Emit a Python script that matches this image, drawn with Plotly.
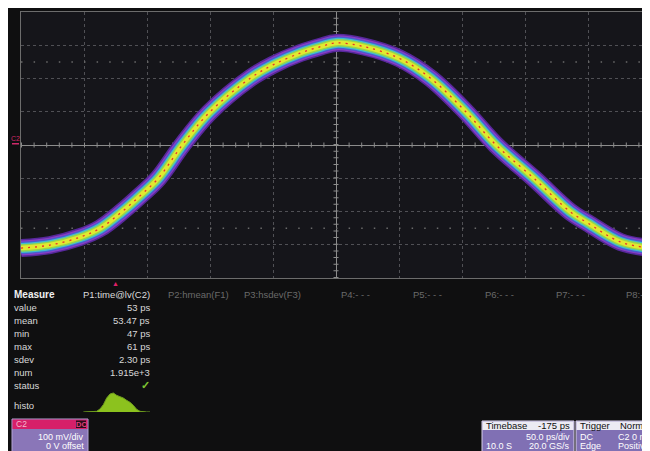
import plotly.graph_objects as go

# The page body has an 8px margin; the figure is positioned at (8, 8) in the window.
OX, OY = 8, 8
W, H = 650, 451

# ---------------- data ----------------
time_ps = [-250, -227, -203, -187, -170, -155, -141, -122, -101, -68, -50, -28, -12, 0,
           22, 50, 75, 103, 127, 157, 186, 200, 226, 250]
volt_mV = [-310, -301, -277, -250, -201, -151, -100, 0, 96, 201, 241, 277, 296, 307,
           296, 261, 201, 100, 0, -100, -201, -235, -292, -310]

histo_ps = [44, 45, 46, 47, 48, 49, 50, 51, 52, 53, 54, 55, 56, 57, 58, 59, 60, 61, 62, 63, 64]
histo_counts = [0, 0, 0, 1, 2, 9, 22, 42, 54, 57, 50, 46, 42, 35, 29, 20, 8, 2, 0, 0, 0]

param_headers = ["P1:time@lv(C2)", "P2:hmean(F1)", "P3:hsdev(F3)", "P4:- - -",
                 "P5:- - -", "P6:- - -", "P7:- - -", "P8:- - -"]
measure_labels = ["value", "mean", "min", "max", "sdev", "num", "status", "histo"]
measure_values = ["53 ps", "53.47 ps", "47 ps", "61 ps", "2.30 ps", "1.915e+3", "\u2713"]

# ---------------- layout helpers (window pixels -> paper) ----------------
def PX(x):
    return (x - OX) / W

def PY(y):
    return (H - (y - OY)) / H

FONT = "Liberation Sans, Arial, sans-serif"
PAPER = "#0f0f10"
GX0, GX1, GY0, GY1 = 21, 651, 12, 278   # graticule in window pixels

fig = go.Figure()

band = [("#55289a", 18), ("#8a3cc4", 15), ("#4a5cd0", 12.5), ("#40bccf", 10),
        ("#96d64a", 7.5), ("#e2e830", 4.5)]
for col, wd in band:
    fig.add_trace(go.Scatter(x=time_ps, y=volt_mV, mode="lines",
                             line=dict(color=col, width=wd, shape="spline", smoothing=1.0),
                             hoverinfo="skip", showlegend=False))
fig.add_trace(go.Scatter(x=time_ps, y=volt_mV, mode="lines",
                         line=dict(color="#e8302a", width=1.3, shape="spline",
                                   smoothing=1.0, dash="2px,5px"),
                         hoverinfo="skip", showlegend=False))

# histogram in the measure table
fig.add_trace(go.Scatter(x=histo_ps, y=histo_counts, mode="lines", xaxis="x2", yaxis="y2",
                         line=dict(color="#6f9e1e", width=1, shape="linear"),
                         fill="tozeroy", fillcolor="#8cc21e",
                         hoverinfo="skip", showlegend=False))

shapes = []
annotations = []

def txt(x, y, s, anchor="left", color="#dcdcdc", size=9.5, bold=False):
    annotations.append(dict(x=PX(x), y=PY(y), xref="paper", yref="paper",
                            text=("<b>%s</b>" % s) if bold else s,
                            showarrow=False, xanchor=anchor, yanchor="middle",
                            font=dict(family=FONT, size=size, color=color)))

def rect(x0, y0, x1, y1, fill, line=None, layer="above"):
    shapes.append(dict(type="rect", xref="paper", yref="paper", x0=PX(x0), x1=PX(x1),
                       y0=PY(y1), y1=PY(y0), fillcolor=fill,
                       line=dict(width=1 if line else 0, color=line or fill), layer=layer))

# hide the subplot background behind the small histogram
rect(80, 390, 154, 414, PAPER, layer="below")

# center cross ticks and marker rows (graticule decoration)
shapes.append(dict(type="line", xref="x", yref="y", x0=-250, x1=250, y0=0, y1=0,
                   line=dict(color="#8c8c8c", width=5, dash="1px,11.6px"), layer="between"))
shapes.append(dict(type="line", xref="x", yref="y", x0=0, x1=0, y0=-400, y1=400,
                   line=dict(color="#8c8c8c", width=5, dash="1px,5.65px"), layer="between"))
for yv in (-250, 250):
    shapes.append(dict(type="line", xref="x", yref="y", x0=-250, x1=250, y0=yv, y1=yv,
                       line=dict(color="#6a6a6a", width=1.5, dash="1.5px,11.1px"), layer="between"))

# channel marker at left
txt(15.5, 139, "C2", "center", "#d02a6a", 7)
rect(12, 143, 19, 144.5, "#d02a6a")

# trigger position marker
txt(115.5, 283, "\u25B2", "center", "#e0206a", 7)

# measure table
txt(11.5, 294, "Measure", "left", "#f0f0f0", 10, bold=True)
hdr_x = [152, 166, 242, 339, 411, 483, 554, 624]
for i, h in enumerate(param_headers):
    if i == 0:
        txt(hdr_x[i], 294, h, "right", "#dcdcdc")
    else:
        txt(hdr_x[i], 294, h, "left", "#6a6a6a")
row_y = [307, 320, 333, 346, 359, 372, 385, 405]
for lab, yv in zip(measure_labels, row_y):
    txt(11.5, yv, lab, "left", "#d8d8d8")
for val, yv in zip(measure_values, row_y):
    if val == "\u2713":
        txt(152, yv, val, "right", "#7cc232", 11, bold=True)
    else:
        txt(152, yv, val, "right", "#d8d8d8")

# C2 channel panel
rect(12, 419, 88, 470, "#8a76b8", "#b4a4d4")
rect(12.5, 419.5, 87.5, 429, "#d61f69")
txt(14, 424, "C2", "left", "#f4b8cc", 8.5)
rect(76, 420.5, 86, 428, "#2a0c18")
txt(81, 424.3, "DC", "center", "#e0407e", 7.5, bold=True)
txt(86, 436.5, "100 mV/div", "right", "#ffffff", 9)
txt(86, 445.5, "0 V offset", "right", "#ffffff", 9)

# Timebase panel
rect(482, 421, 574, 470, "#8070b4", "#d8d0ea")
rect(482.5, 421.5, 573.5, 430, "#ecebf3")
txt(484, 425.5, "Timebase", "left", "#101010")
txt(572, 425.5, "-175 ps", "right", "#101010")
txt(572, 436.5, "50.0 ps/div", "right", "#ffffff", 9)
txt(484, 445.5, "10.0 S", "left", "#ffffff", 9)
txt(572, 445.5, "20.0 GS/s", "right", "#ffffff", 9)

# Trigger panel
rect(576, 421, 662, 470, "#8070b4", "#d8d0ea")
rect(576.5, 421.5, 662, 430, "#ecebf3")
txt(578, 425.5, "Trigger", "left", "#101010")
txt(653, 425.5, "Normal", "right", "#101010")
txt(578, 436.5, "DC", "left", "#ffffff", 9)
txt(655, 436.5, "C2 0 mV", "right", "#ffffff", 9)
txt(578, 445.5, "Edge", "left", "#ffffff", 9)
txt(652, 445.5, "Positive", "right", "#ffffff", 9)

fig.update_layout(
    width=W, height=H, margin=dict(l=0, r=0, t=0, b=0),
    paper_bgcolor=PAPER, plot_bgcolor="#15151a",
    showlegend=False, hovermode=False,
    xaxis=dict(domain=[PX(GX0), PX(GX1)], range=[-250, 250], tick0=-250, dtick=50,
               showgrid=True, gridcolor="#505055", griddash="dot", gridwidth=1,
               zeroline=True, zerolinecolor="#8c8c8c", zerolinewidth=1,
               showline=True, mirror=True, linecolor="#6c6c6c", linewidth=1,
               showticklabels=False, ticks="", fixedrange=True),
    yaxis=dict(domain=[PY(GY1), PY(GY0)], range=[-400, 400], tick0=-400, dtick=100,
               showgrid=True, gridcolor="#505055", griddash="dot", gridwidth=1,
               zeroline=True, zerolinecolor="#8c8c8c", zerolinewidth=1,
               showline=True, mirror=False, linecolor="#6c6c6c", linewidth=1,
               showticklabels=False, ticks="", fixedrange=True),
    xaxis2=dict(domain=[PX(82), PX(152)], range=[43.6, 64.6], anchor="y2", visible=False),
    yaxis2=dict(domain=[PY(412), PY(392)], range=[0, 60], anchor="x2", visible=False),
    shapes=shapes, annotations=annotations,
)

fig.write_html("out.html")
